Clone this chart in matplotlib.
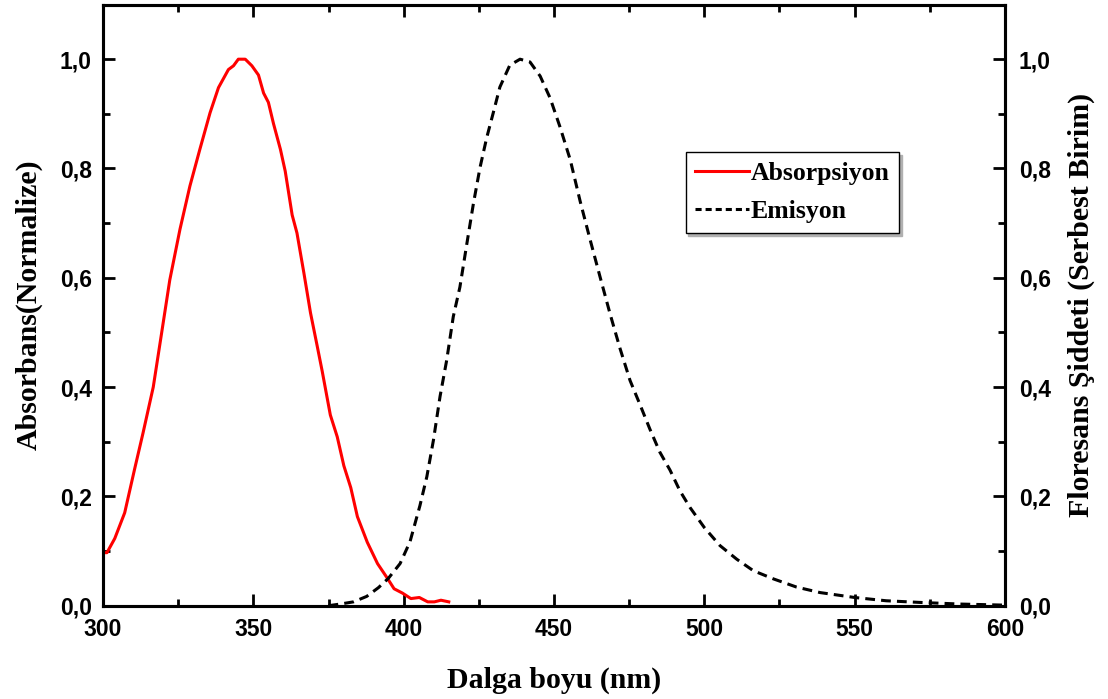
import matplotlib
matplotlib.use("Agg")
import matplotlib.pyplot as plt
from matplotlib.ticker import MultipleLocator, FuncFormatter
from matplotlib.lines import Line2D
from matplotlib.font_manager import FontProperties

# ---- data ----
abs_x = [300.0, 301.3, 303.9, 307.2, 310.5, 313.3, 316.7, 319.4, 322.2, 325.6,
         328.9, 332.2, 335.6, 338.4, 341.7, 343.4, 345.0, 347.3, 349.5, 351.7,
         353.4, 355.0, 356.7, 359.0, 360.6, 362.9, 364.5, 366.8, 369.0, 371.2,
         372.9, 375.6, 377.9, 380.1, 382.4, 384.6, 387.9, 391.3, 394.6, 396.8,
         399.6, 402.4, 405.2, 408.0, 410.2, 412.4, 415.0]
abs_y = [0.097, 0.097, 0.123, 0.170, 0.250, 0.316, 0.400, 0.496, 0.596, 0.689,
         0.768, 0.835, 0.902, 0.948, 0.981, 0.988, 1.000, 1.000, 0.988, 0.971,
         0.938, 0.921, 0.882, 0.835, 0.795, 0.715, 0.682, 0.609, 0.536, 0.476,
         0.429, 0.349, 0.309, 0.256, 0.216, 0.163, 0.116, 0.077, 0.050, 0.031,
         0.023, 0.013, 0.015, 0.007, 0.007, 0.010, 0.007]

em_x = [375.0, 378.9, 383.3, 387.7, 391.6, 394.9, 398.8, 402.1, 405.4, 407.7,
        409.9, 412.1, 414.3, 416.5, 418.7, 421.0, 423.2, 425.4, 427.6, 429.8,
        432.0, 435.3, 438.7, 442.0, 445.4, 448.7, 452.0, 455.4, 458.7, 462.0,
        465.4, 468.7, 472.0, 475.3, 478.6, 481.9, 485.2, 488.6, 491.9, 495.2,
        500.0, 505.2, 510.8, 516.3, 523.0, 530.7, 538.5, 550.0, 560.5, 571.6,
        585.0, 600.0]
em_y = [0.000, 0.003, 0.007, 0.017, 0.033, 0.050, 0.077, 0.117, 0.183, 0.236,
        0.303, 0.383, 0.449, 0.529, 0.583, 0.662, 0.736, 0.802, 0.856, 0.902,
        0.949, 0.989, 1.000, 0.995, 0.969, 0.929, 0.876, 0.816, 0.740, 0.670,
        0.600, 0.533, 0.470, 0.412, 0.368, 0.323, 0.281, 0.248, 0.210, 0.180,
        0.143, 0.110, 0.085, 0.064, 0.049, 0.034, 0.024, 0.015, 0.009, 0.006,
        0.003, 0.001]

x_ticks = [300, 350, 400, 450, 500, 550, 600]
y_ticks = [0.0, 0.2, 0.4, 0.6, 0.8, 1.0]

label_abs = "Absorpsiyon"
label_em = "Emisyon"
xlabel = "Dalga boyu (nm)"
ylabel_left = "Absorbans(Normalize)"
ylabel_right = "Floresans Şiddeti (Serbest Birim)"

# ---- figure ----
fig = plt.figure(figsize=(11.08, 6.99), dpi=100)
ax = fig.add_axes([0.093, 0.1335, 0.814, 0.86])

lw = 2.2
ax.plot(abs_x, abs_y, color="#ff0000", lw=lw, solid_joinstyle="round", zorder=3)
ax.plot(em_x, em_y, color="black", lw=lw, dashes=(3.2, 2.0), zorder=3)

ax.set_xlim(300, 600)
ax.set_ylim(0, 1.1)

comma_fmt = FuncFormatter(lambda v, p: f"{v:.1f}".replace(".", ","))

tick_fp = FontProperties(family="Liberation Sans", weight="bold", size=16.5,
                         stretch="normal")
label_font = {"family": "Liberation Serif", "weight": "bold", "size": 21.5}

ax.set_xticks(x_ticks)
ax.set_yticks(y_ticks)
ax.xaxis.set_minor_locator(MultipleLocator(25))
ax.yaxis.set_minor_locator(MultipleLocator(0.1))
ax.yaxis.set_major_formatter(comma_fmt)

for sp in ax.spines.values():
    sp.set_linewidth(2.2)

ax.tick_params(which="both", direction="in", top=True, right=False, width=2.0)
ax.tick_params(which="major", length=8.5)
ax.tick_params(which="minor", length=5)
ax.tick_params(axis="x", which="major", pad=9)
ax.tick_params(axis="y", which="major", pad=8)

for lab in ax.get_xticklabels() + ax.get_yticklabels():
    lab.set_fontproperties(tick_fp)

ax2 = ax.twinx()
ax2.set_ylim(0, 1.1)
ax2.set_yticks(y_ticks)
ax2.yaxis.set_minor_locator(MultipleLocator(0.1))
ax2.yaxis.set_major_formatter(comma_fmt)
ax2.tick_params(which="both", direction="in", width=2.0)
ax2.tick_params(which="major", length=8.5, pad=10)
ax2.tick_params(which="minor", length=5)
for sp in ax2.spines.values():
    sp.set_linewidth(2.2)
for lab in ax2.get_yticklabels():
    lab.set_fontproperties(tick_fp)

ax.set_xlabel(xlabel, fontdict=label_font)
ax.xaxis.set_label_coords(0.5, -0.124)
ax.xaxis.label.set_va("center")

ax.set_ylabel(ylabel_left, fontdict=label_font)
ax.yaxis.set_label_coords(-0.082, 0.5)
ax.yaxis.label.set_va("center")

ax2.set_ylabel(ylabel_right, fontdict=label_font, rotation=90)
ax2.yaxis.set_label_coords(1.085, 0.5)
ax2.yaxis.label.set_va("center")

handles = [Line2D([], [], color="#ff0000", lw=lw),
           Line2D([], [], color="black", lw=lw, dashes=(2.0, 1.3))]
leg = ax.legend(handles, [label_abs, label_em], loc="upper left",
                bbox_to_anchor=(0.646, 0.755), borderaxespad=0,
                prop={"family": "Liberation Serif", "weight": "bold", "size": 18.5},
                handlelength=2.1, handletextpad=0.05, borderpad=0.38,
                labelspacing=0.6, fancybox=False, frameon=True,
                shadow={"color": "#b0b0b0", "alpha": 1.0})
leg.get_frame().set_edgecolor("black")
leg.get_frame().set_linewidth(1.0)

fig.savefig("out.png", dpi=100)
